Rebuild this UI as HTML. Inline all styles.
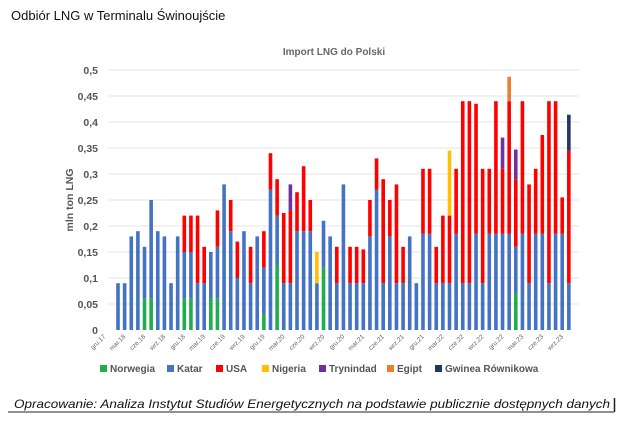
<!DOCTYPE html>
<html><head><meta charset="utf-8"><style>
body{margin:0;background:#fff;width:618px;height:419px;overflow:hidden;font-family:"Liberation Sans",sans-serif}
</style></head><body>
<svg id="s" width="618" height="419" xmlns="http://www.w3.org/2000/svg" font-family="Liberation Sans, sans-serif">
<text x="11" y="20" font-size="13" fill="#111">Odbiór LNG w Terminalu Świnoujście</text>
<text x="334" y="55" font-size="10" font-weight="bold" fill="#666" text-anchor="middle">Import LNG do Polski</text>
<text transform="translate(73,200) rotate(-90)" font-size="10.5" font-weight="bold" fill="#555" text-anchor="middle">mln ton LNG</text>
<g id="grid"></g><g id="bars"></g><g id="xl"></g>
<g font-size="10" font-weight="bold" fill="#555">
<rect x="100" y="365" width="7" height="7" fill="#1fae4b"/><text x="110" y="372">Norwegia</text>
<rect x="167" y="365" width="7" height="7" fill="#4472c4"/><text x="177" y="372">Katar</text>
<rect x="216" y="365" width="7" height="7" fill="#ff0000"/><text x="226" y="372">USA</text>
<rect x="262" y="365" width="7" height="7" fill="#ffc000"/><text x="272" y="372">Nigeria</text>
<rect x="319" y="365" width="7" height="7" fill="#7030a0"/><text x="329" y="372">Trynindad</text>
<rect x="387" y="365" width="7" height="7" fill="#ed7d31"/><text x="397" y="372">Egipt</text>
<rect x="435" y="365" width="7" height="7" fill="#1f3864"/><text x="445" y="372">Gwinea Równikowa</text>
</g>
<text x="14" y="408" font-size="12" font-style="italic" fill="#111" textLength="596" lengthAdjust="spacingAndGlyphs">Opracowanie: Analiza Instytut Studiów Energetycznych na podstawie publicznie dostępnych danych</text>
<line x1="8" y1="412" x2="614" y2="412" stroke="#222" stroke-width="1"/>
<line x1="614.5" y1="398" x2="614.5" y2="412" stroke="#222" stroke-width="1.5"/>
</svg>
<script>
var N='http://www.w3.org/2000/svg',C={N:'#1fae4b',K:'#4472c4',U:'#ff0000',G:'#ffc000',T:'#7030a0',E:'#ed7d31',W:'#1f3864'};
function el(p,t,a,tx){var e=document.createElementNS(N,t);for(var k in a)e.setAttribute(k,a[k]);if(tx)e.textContent=tx;document.getElementById(p).appendChild(e);}
function Y(v){return 330-v*520;}
var yl=['0','0,05','0,1','0,15','0,2','0,25','0,3','0,35','0,4','0,45','0,5'];
for(var i=0;i<=10;i++){var y=Y(i*0.05);if(i>0)el('grid','line',{x1:108,x2:579,y1:y,y2:y,stroke:'#e4e4e4','stroke-width':1});
el('grid','text',{x:98,y:y+4,'font-size':10.5,'font-weight':'bold',fill:'#555','text-anchor':'end'},yl[i]);}
var D=[[['K',.09]],[['K',.09]],[['K',.18]],[['K',.19]],[['N',.06],['K',.16]],[['N',.06],['K',.25]],[['K',.19]],[['K',.18]],[['K',.09]],[['K',.18]],
[['N',.06],['K',.15],['U',.22]],[['N',.06],['K',.15],['U',.22]],[['K',.09],['U',.22]],[['K',.09],['U',.16]],[['N',.06],['K',.15]],[['N',.06],['K',.16],['U',.23]],[['K',.28]],[['K',.19],['U',.25]],[['K',.10],['U',.17]],[['K',.19]],
[['K',.09],['U',.16]],[['K',.18]],[['N',.03],['K',.12],['U',.19]],[['K',.27],['U',.34]],[['N',.125],['K',.22],['U',.29]],[['K',.09],['U',.225]],[['K',.09],['U',.23],['T',.28]],[['K',.19],['U',.265]],[['K',.19],['U',.315]],[['K',.19],['U',.25]],
[['K',.09],['G',.15]],[['N',.12],['K',.21]],[['K',.18]],[['K',.09],['U',.16]],[['K',.28]],[['K',.09],['U',.16]],[['K',.09],['U',.16]],[['K',.09],['U',.155]],[['K',.18],['U',.25]],[['K',.27],['U',.33]],
[['K',.09],['U',.29]],[['K',.18],['U',.25]],[['K',.09],['U',.28]],[['K',.09],['U',.16]],[['K',.18]],[['K',.09]],[['K',.185],['U',.31]],[['K',.185],['U',.31]],[['K',.09],['U',.16]],[['K',.09],['U',.22]],
[['K',.09],['U',.22],['G',.345]],[['K',.185],['U',.31]],[['K',.09],['U',.44]],[['K',.09],['U',.44]],[['K',.185],['U',.435]],[['K',.09],['U',.31]],[['K',.185],['U',.31]],[['K',.185],['U',.44]],[['K',.185],['U',.31],['T',.37]],[['K',.185],['U',.44],['E',.487]],
[['N',.07],['K',.16],['U',.29],['T',.347]],[['K',.185],['U',.44]],[['K',.09],['U',.28]],[['K',.185],['U',.31]],[['K',.185],['U',.375]],[['K',.09],['U',.44]],[['K',.185],['U',.44]],[['K',.185],['U',.255]],[['K',.09],['U',.345],['W',.414]]];
D.forEach(function(b,i){var x=118+i*6.63-1.8,p=0;b.forEach(function(s){el('bars','rect',{x:x,y:Y(s[1]),width:3.6,height:(s[1]-p)*520,fill:C[s[0]]});p=s[1];});});
var L=['gru.17','mar.18','cze.18','wrz.18','gru.18','mar.19','cze.19','wrz.19','gru.19','mar.20','cze.20','wrz.20','gru.20','mar.21','cze.21','wrz.21','gru.21','mar.22','cze.22','wrz.22','gru.22','mar.23','cze.23','wrz.23'];
L.forEach(function(t,i){var x=106+i*19.9;el('xl','text',{transform:'translate('+x+',337) rotate(-45)','font-size':6.5,fill:'#666','text-anchor':'end'},t);});
</script>
</body></html>
